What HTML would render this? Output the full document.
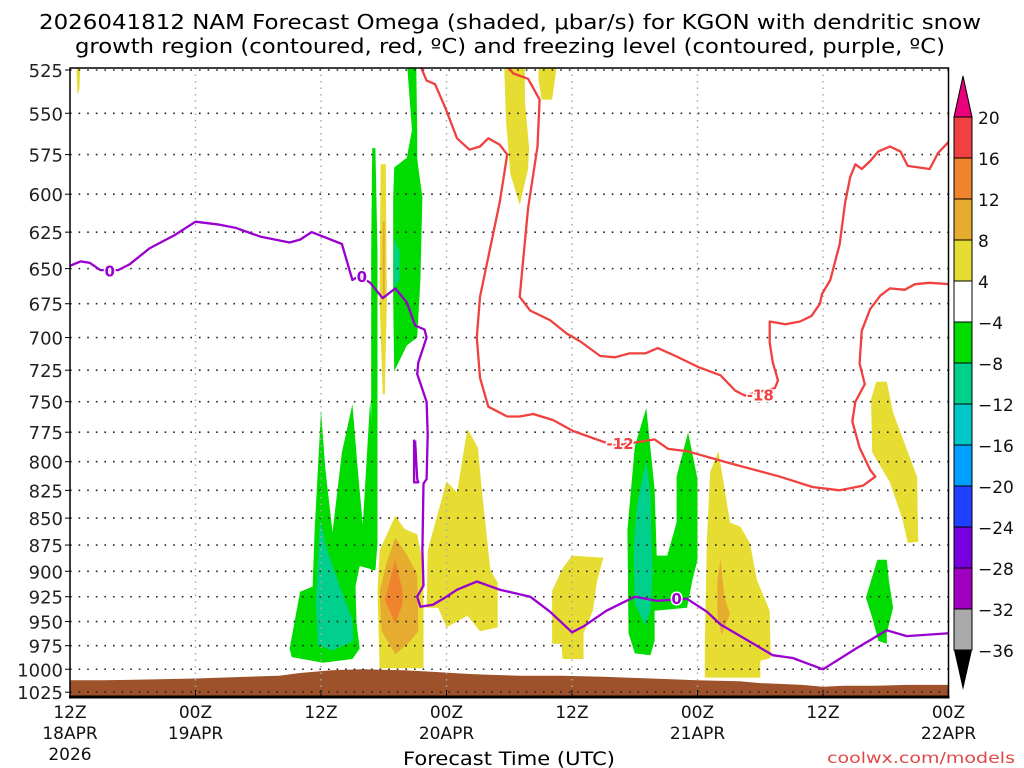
<!DOCTYPE html>
<html><head><meta charset="utf-8"><style>
html,body{margin:0;padding:0;background:#fff;}
svg{display:block;font-family:"DejaVu Sans","Liberation Sans",sans-serif;}
</style></head><body>
<svg id="chart" width="1024" height="768" viewBox="0 0 1024 768" xmlns="http://www.w3.org/2000/svg">
<text x="510" y="29" font-size="20" text-anchor="middle" textLength="942" lengthAdjust="spacingAndGlyphs">2026041812 NAM Forecast Omega (shaded, μbar/s) for KGON with dendritic snow</text>
<text x="510" y="53" font-size="20" text-anchor="middle" textLength="870" lengthAdjust="spacingAndGlyphs">growth region (contoured, red, ºC) and freezing level (contoured, purple, ºC)</text>
<defs><clipPath id="plotclip"><rect x="70" y="68" width="879" height="629"/></clipPath></defs>
<g id="shading" clip-path="url(#plotclip)"></g>
<g id="grid"></g>
<g id="contours" clip-path="url(#plotclip)"></g>
<g id="axes"></g>
<g id="colorbar"></g>
<text x="509" y="765" font-size="19" text-anchor="middle" textLength="212" lengthAdjust="spacingAndGlyphs">Forecast Time (UTC)</text>
<text x="1015" y="763" font-size="15" fill="#e04848" text-anchor="end" textLength="188" lengthAdjust="spacingAndGlyphs">coolwx.com/models</text>
</svg>
<script>
// ---- data ----
const pressureLevels=[525,550,575,600,625,650,675,700,725,750,775,800,825,850,875,900,925,950,975,1000,1025];
const timeTicks=[0,12,24,36,48,60,72,84];
const timeLabels=[["12Z","18APR","2026"],["00Z","19APR"],["12Z"],["00Z","20APR"],["12Z"],["00Z","21APR"],["12Z"],["00Z","22APR"]];
const cbLevels=[20,16,12,8,4,-4,-8,-12,-16,-20,-24,-28,-32,-36];
const cbColors=["#f04040","#f0842c","#e6ac30","#e6dc32","#ffffff","#00dc00","#00d08c","#00c8c8","#00a0ff","#2040ff","#7800dc","#a000c0","#aaaaaa"];
const surfaceHours=[0,3,8,12,20,22,25,28,32,35,38,40,43,47,51,60,64,66,70,72,74,77,80,84];
const surfacePres=[1012,1012,1011,1010,1007,1004,1001,1000,1001,1003,1005,1006,1007,1007,1008,1012,1013,1015,1017,1019,1018,1018,1017,1017];
const yellowTiny=[[0.6,520],[1.0,520],[0.9,536],[0.7,539]];
const yellowTop1=[[41.5,520],[43.5,520],[43.5,543],[43.9,571],[43.8,584],[43.0,607],[42.1,587],[41.7,555]];
const yellowTop2=[[44.8,520],[46.6,520],[46.1,542],[45.1,542],[44.8,531]];
const greenTop=[[32.2,520],[33.1,520],[33.2,560],[33.2,577],[33.3,583],[33.7,602],[33.5,658],[33.2,700],[32.2,706],[31.0,726],[30.9,672],[30.9,602],[31.0,583],[32.2,577],[32.7,560]];
const tealTop=[[31.0,629],[31.5,638],[31.5,658],[31.0,664]];
const greenStrip=[[28.9,571],[29.2,571],[29.4,638],[29.4,872],[29.2,899],[28.8,899],[28.8,638]];
const yellowStrip=[[29.7,581],[30.2,581],[30.3,672],[30.1,744],[29.9,744],[29.6,672]];
const darkStrip=[[29.9,618],[30.1,618],[30.1,670],[29.9,670]];
const greenLow=[[21.0,978],[22.0,920],[23.2,915],[23.4,860],[24.0,757],[24.4,805],[25.1,863],[26.0,792],[27.0,752],[27.5,805],[28.0,856],[28.7,748],[29.4,872],[29.2,899],[27.7,895],[27.3,915],[27.4,952],[27.7,978],[27.0,989],[24.2,993],[21.2,987]];
const tealLow=[[23.9,852],[24.6,880],[25.8,915],[27.0,948],[27.1,970],[25.1,980],[23.7,974],[23.5,932]];
const yellowBlob1=[[29.6,880],[31.1,848],[32.0,860],[33.2,865],[33.8,895],[33.8,999],[29.6,999],[29.4,920]];
const darkBlob1=[[30.3,891],[31.1,868],[32.2,884],[33.2,903],[33.3,960],[32.2,974],[31.1,984],[29.8,960],[29.6,920]];
const orangeBlob1=[[31.1,889],[31.8,920],[31.8,932],[31.1,952],[30.1,928]];
const yellow2=[[34.2,880],[36.0,817],[37.0,827],[38.0,772],[39.0,788],[39.4,827],[40.2,899],[40.9,911],[40.9,956],[39.2,960],[38.0,944],[36.0,956],[35.2,936],[34.1,936]];
const yellow3=[[46.1,919],[47.1,897],[48.0,885],[51.0,887],[50.4,909],[50.0,939],[49.1,962],[49.1,989],[47.1,989],[47.0,973],[46.1,973]];
const greenR=[[55.1,755],[55.9,824],[56.1,885],[57.1,885],[58.0,854],[58.0,813],[59.1,775],[60.0,815],[60.0,889],[59.5,909],[59.0,936],[55.9,939],[55.9,970],[55.5,985],[54.0,983],[53.4,962],[53.3,861],[54.0,787]];
const tealR=[[55.1,798],[55.5,830],[55.7,902],[55.5,939],[55.0,954],[54.0,932],[53.9,877],[54.2,839]];
const yellowR=[[62.0,791],[62.6,824],[63.1,854],[64.1,858],[65.0,873],[65.7,909],[66.9,939],[67.0,988],[66.0,991],[66.0,1009],[60.7,1009],[60.7,973],[60.9,870],[61.2,809]];
const darkR=[[62.2,889],[62.6,926],[63.1,942],[62.3,964],[61.9,942],[61.9,909]];
const yellowFar=[[77.1,734],[78.1,734],[78.7,759],[81.0,813],[81.1,872],[80.1,873],[79.6,851],[78.4,818],[76.7,792],[76.6,748]];
const greenFar=[[77.2,889],[78.1,889],[78.3,909],[78.7,936],[78.1,962],[78.1,973],[77.3,970],[76.7,946],[76.1,926],[76.5,912]];
const freezingLine=[[0,648],[1.0,645],[1.9,646],[2.9,651],[4.6,651],[5.7,647],[7.6,636],[10.0,627],[12.0,618],[14.3,620],[15.8,622],[18.2,628],[21.0,632],[22.0,630],[23.1,625],[24.2,628],[26.0,633],[27.0,658],[27.7,655],[28.7,660],[29.9,671],[31.1,664],[32.2,674],[33.0,691],[33.9,694],[34.1,700],[33.3,719],[33.2,728],[34.1,750],[34.2,777],[34.1,815],[33.8,819],[33.7,880],[33.8,914],[33.2,925],[33.5,935],[34.7,933],[36.0,925],[37.0,918],[38.9,910],[41.1,918],[44.0,925],[45.9,940],[48.0,961],[49.1,955],[51.3,939],[54.0,925],[56.1,929],[59.0,927],[60.9,940],[62.2,953],[64.1,965],[67.2,985],[69.1,988],[72.0,1000],[75.3,977],[78.1,959],[80.0,965],[84.1,962]];
const freezingLoop=[[33.0,782],[33.2,815],[33.3,818],[32.9,818],[32.9,782],[33.0,782]];
const freezingLabels=[[3.8,652],[27.9,656],[58.0,927]];
const dgzMinus12=[[33.3,520],[34.1,531],[34.9,533],[35.9,547],[37.0,565],[38.2,572],[39.2,570],[40.0,565],[41.1,569],[41.8,575],[41.1,605],[39.2,670],[38.9,700],[39.2,731],[40.0,754],[41.8,762],[43.0,762],[44.3,760],[46.2,765],[48.1,774],[51.0,783],[52.1,786],[54.5,783],[55.9,781],[57.2,789],[59.0,791],[63.4,802],[67.9,813],[71.0,822],[73.6,825],[75.8,821],[77.0,813],[76.5,807],[75.5,788],[74.8,766],[75.1,750],[76.0,736],[75.5,720],[75.7,695],[76.5,679],[77.5,669],[78.4,664],[79.8,665],[80.8,661],[82.2,660],[84.2,661]];
const dgzMinus18=[[41.4,520],[42.4,527],[43.8,530],[44.9,542],[44.7,570],[43.8,609],[43.0,670],[44.0,680],[45.9,687],[47.5,697],[48.8,703],[50.7,714],[52.1,715],[53.5,712],[55.0,712],[56.2,708],[57.9,714],[60.2,723],[62.2,729],[63.6,741],[64.5,745],[67.4,739],[67.7,733],[67.2,719],[66.9,704],[66.9,688],[68.4,690],[69.8,688],[70.9,684],[71.7,675],[71.9,668],[72.7,658],[73.6,633],[74.1,606],[74.6,589],[75.1,581],[75.7,584],[76.5,579],[77.3,573],[78.4,570],[79.4,573],[80.1,582],[82.2,584],[83.0,574],[84.2,566]];
const dgzLabels=[["-12",52.6,785],["-18",66.0,745]];

// ---- axes functions ----
const X0=70,XW=878.5,HMAX=84,Y0=70,YS=930,P0=525;
function xs(h){return X0+h/HMAX*XW;}
function ys(p){return Y0+YS*Math.log(p/P0);}
const NS="http://www.w3.org/2000/svg";
function mk(tag,attrs,parent){const e=document.createElementNS(NS,tag);for(const k in attrs)e.setAttribute(k,attrs[k]);parent.appendChild(e);return e;}
function pts(arr){return arr.map(d=>xs(d[0]).toFixed(1)+","+ys(d[1]).toFixed(1)).join(" ");}

const shading=document.getElementById("shading");
const shapes=[
 ["yellow-cell-top-left",yellowTiny,"#e6dc32"],["yellow-cell-top-1",yellowTop1,"#e6dc32"],["yellow-cell-top-2",yellowTop2,"#e6dc32"],
 ["green-cell-upper",greenTop,"#00dc00"],["teal-cell-upper",tealTop,"#00d08c"],["green-strip",greenStrip,"#00dc00"],
 ["yellow-strip",yellowStrip,"#e6dc32"],["darkyellow-strip",darkStrip,"#e6ac30"],
 ["green-cell-low",greenLow,"#00dc00"],["teal-cell-low",tealLow,"#00d08c"],
 ["yellow-cell-1",yellowBlob1,"#e6dc32"],["darkyellow-cell-1",darkBlob1,"#e6ac30"],["orange-cell-1",orangeBlob1,"#f0842c"],
 ["yellow-cell-2",yellow2,"#e6dc32"],["yellow-cell-3",yellow3,"#e6dc32"],
 ["green-cell-right",greenR,"#00dc00"],["teal-cell-right",tealR,"#00d08c"],
 ["yellow-cell-right",yellowR,"#e6dc32"],["darkyellow-cell-right",darkR,"#e6ac30"],
 ["yellow-cell-far",yellowFar,"#e6dc32"],["green-cell-far",greenFar,"#00dc00"]];
shapes.forEach(s=>{
 const e=mk("polygon",{points:pts(s[1]),fill:s[2]},shading);
 
 
});
// ground
const gArr=surfaceHours.map((h,i)=>[h,surfacePres[i]]);
gArr.push([84,1040]);gArr.push([0,1040]);
const ground=mk("polygon",{points:pts(gArr),fill:"#9e522c"},shading);



// grid
const grid=document.getElementById("grid");
pressureLevels.forEach(p=>{
 const l=mk("line",{x1:X0,x2:X0+XW,y1:ys(p),y2:ys(p),stroke:"#222","stroke-width":1.6,"stroke-dasharray":"1.6 7"},grid);
 
 
});
timeTicks.slice(1,-1).forEach(h=>{
 const l=mk("line",{x1:xs(h),x2:xs(h),y1:68,y2:697,stroke:"#aaa","stroke-width":1.5,"stroke-dasharray":"1.5 5"},grid);
 
 
});

// contours
const cont=document.getElementById("contours");
[[dgzMinus12,"dgz-contour-minus12"],[dgzMinus18,"dgz-contour-minus18"]].forEach(c=>{
 const e=mk("polyline",{points:pts(c[0]),fill:"none",stroke:"#f04040","stroke-width":2.3,"stroke-linejoin":"round"},cont);
 
 
});
dgzLabels.forEach(d=>{
 const t=mk("text",{x:xs(d[1]),y:ys(d[2])+5,"font-size":15,"font-weight":"bold",fill:"#f04040","text-anchor":"middle",stroke:"#fff","stroke-width":3,"paint-order":"stroke"},cont);
 t.textContent=d[0];
 
 
});
[[freezingLine,"freezing-level-line"],[freezingLoop,"freezing-level-loop"]].forEach(c=>{
 const e=mk("polyline",{points:pts(c[0]),fill:"none",stroke:"#9a00d0","stroke-width":2.3,"stroke-linejoin":"round"},cont);
 
 
});
freezingLabels.forEach(d=>{
 const t=mk("text",{x:xs(d[0]),y:ys(d[1])+5,"font-size":15,"font-weight":"bold",fill:"#9a00d0","text-anchor":"middle",stroke:"#fff","stroke-width":3,"paint-order":"stroke"},cont);
 t.textContent="0";
 
 
});

// axes
const axes=document.getElementById("axes");
const frame=mk("rect",{x:X0,y:68,width:XW,height:629,fill:"none",stroke:"#000","stroke-width":1.5},axes);


const bottomAxis=mk("line",{x1:X0-1,x2:X0+XW+1,y1:697,y2:697,stroke:"#000","stroke-width":3},axes);


pressureLevels.forEach(p=>{
 const t=mk("text",{x:63,y:ys(p)+7,"font-size":18,"text-anchor":"end",fill:"#222"},axes);
 t.textContent=p;
 
 
 const tk=mk("line",{x1:X0-5,x2:X0,y1:ys(p),y2:ys(p),stroke:"#000","stroke-width":1},axes);
 
 
});
timeTicks.forEach((h,i)=>{
 const tk=mk("line",{x1:xs(h),x2:xs(h),y1:690,y2:697,stroke:"#000","stroke-width":1},axes);
 
 
 timeLabels[i].forEach((s,j)=>{
  const t=mk("text",{x:xs(h),y:718+j*21,"font-size":17,"text-anchor":"middle",fill:"#111"},axes);
  t.textContent=s;
  
  
 });
});

// colorbar
const cb=document.getElementById("colorbar");
const CBX=954,CBW=18,CBT=117,CBH=41;
const cbTopArrow=mk("polygon",{points:`${CBX},${CBT} ${CBX+CBW},${CBT} ${CBX+CBW/2},76`,fill:"#e8007c",stroke:"#000","stroke-width":1},cb);


cbColors.forEach((c,i)=>{
 const r=mk("rect",{x:CBX,y:CBT+i*CBH,width:CBW,height:CBH,fill:c,stroke:"#000","stroke-width":1},cb);
 
 
});
const cbBottomY=CBT+cbColors.length*CBH;
const cbBottomArrow=mk("polygon",{points:`${CBX},${cbBottomY} ${CBX+CBW},${cbBottomY} ${CBX+CBW/2},690`,fill:"#000"},cb);


cbLevels.forEach((v,i)=>{
 const t=mk("text",{x:978,y:CBT+i*CBH+7,"font-size":17,fill:"#111"},cb);
 t.textContent=v<0?"−"+Math.abs(v):String(v);
 
 
});
</script>
</body></html>
